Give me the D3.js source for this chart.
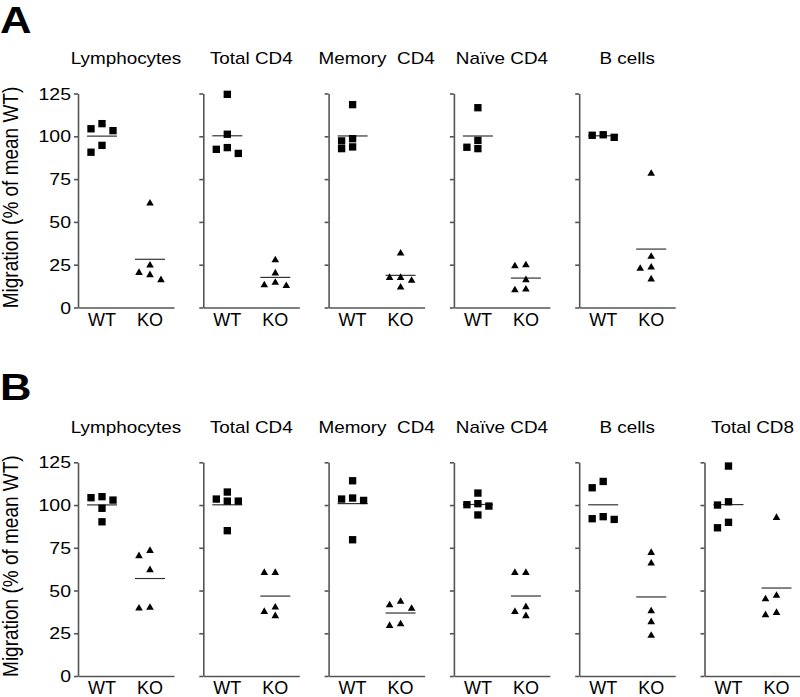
<!DOCTYPE html>
<html>
<head>
<meta charset="utf-8">
<script src="https://cdn.jsdelivr.net/npm/d3@7"></script>
<style>
  body { margin: 0; background: #fff; }
  text { font-family: Arial, "Liberation Sans", Helvetica, sans-serif; fill: #000; }
</style>
</head>
<body>
<div id="chart"></div>
<script>
// categories and tick labels
const groups = ["WT", "KO"];
const cellsA = ["Lymphocytes", "Total CD4", "Memory  CD4", "Naïve CD4", "B cells"];
const cellsB = ["Lymphocytes", "Total CD4", "Memory  CD4", "Naïve CD4", "B cells", "Total CD8"];
const yTicks = [0, 25, 50, 75, 100, 125];

// migration, % of mean WT
const wtA = [
  [104.4, 103.3, 107.4, 90.7, 94.7],
  [124.5, 101.2, 93.4, 90.0, 92.4],
  [118.5, 97.3, 98.6, 92.8, 93.8],
  [116.7, 97.6, 92.8, 93.6],
  [100.9, 99.4, 100.6]
];
const koA = [
  [60.8, 20.3, 24.6, 16.1, 19.0],
  [27.7, 20.0, 14.5, 12.6, 13.1],
  [31.6, 17.4, 17.4, 15.7, 11.8],
  [24.8, 24.2, 16.1, 10.2, 10.6],
  [78.2, 29.7, 23.5, 22.7, 16.5]
];
const wtB = [
  [102.9, 104.9, 104.3, 98.1, 90.2],
  [107.6, 102.3, 102.3, 103.5, 85.0],
  [114.2, 103.5, 102.7, 104.1, 79.7],
  [107.0, 100.2, 100.8, 99.4, 94.2],
  [113.8, 110.1, 93.2, 91.6, 92.0],
  [122.8, 101.9, 100.0, 89.9, 86.7]
];
const koB = [
  [73.3, 70.2, 62.0, 39.6, 40.0],
  [60.4, 60.4, 40.2, 37.6, 35.1],
  [41.5, 39.4, 43.5, 29.4, 30.4],
  [60.4, 60.4, 40.4, 37.6, 35.1],
  [72.1, 65.9, 38.0, 31.6, 23.6],
  [92.6, 47.0, 45.0, 35.7, 37.0]
];

const width = 800;
const height = 697;
const plotW = 96;
const step = 125.3;
const left0 = 78;
const stretch = 1.18; // the figure's lettering is a little wide

const svg = d3.select("#chart").append("svg")
  .attr("width", width)
  .attr("height", height);

const x = d3.scalePoint().domain(groups).range([0, plotW]).padding(0.5);

// panel settings: label, titles, data, y range
const panels = [
  { label: "A", labelY: 33, cells: cellsA, wt: wtA, ko: koA, y0: 307.5, y1: 93.5 },
  { label: "B", labelY: 400, cells: cellsB, wt: wtB, ko: koB, y0: 676, y1: 462.3 }
];

const square = d3.symbol().type(d3.symbolSquare).size(54);
const triangle = d3.symbol().type(d3.symbolTriangle).size(25);

// simple column placement so close values sit side by side
function swarm(values, y) {
  const slots = [0, -1, 1, -2, 2];
  const placed = [];
  const sorted = values.map((v, i) => ({ v, i })).sort((a, b) => b.v - a.v);
  sorted.forEach((p) => {
    const py = y(p.v);
    for (const s of slots) {
      const hit = placed.some((q) => q.slot === s && Math.abs(y(q.v) - py) < 7.5);
      if (!hit) { placed.push({ v: p.v, slot: s }); break; }
    }
  });
  return placed;
}

// wide text: draw at (tx,ty) and stretch horizontally
function wideText(parent, tx, ty, str, size, anchor) {
  return parent.append("text")
    .attr("transform", `translate(${tx},${ty}) scale(${stretch},1)`)
    .attr("text-anchor", anchor)
    .style("font-size", size + "px")
    .style("white-space", "pre")
    .text(str);
}

panels.forEach((panel) => {
  wideText(svg, 0, panel.labelY, panel.label, 37, "start")
    .style("font-weight", "bold");

  const y = d3.scaleLinear().domain([0, 125]).range([panel.y0, panel.y1]);

  // y axis title
  svg.append("text")
    .attr("transform", `translate(18,${(panel.y0 + panel.y1) / 2 - 3}) scale(1.12,1) rotate(-90)`)
    .attr("text-anchor", "middle")
    .style("font-size", "19px")
    .text("Migration (% of mean WT)");

  panel.cells.forEach((name, i) => {
    const g = svg.append("g")
      .attr("transform", `translate(${left0 + i * step},0)`);

    wideText(g, plotW / 2, panel.y1 - 29.5, name, 16, "middle");

    const yAxis = g.append("g")
      .call(d3.axisLeft(y).tickValues(yTicks).tickSize(4).tickSizeOuter(0).tickFormat(""));
    yAxis.selectAll("path, line").attr("stroke", "#555").attr("stroke-width", 1.6);

    if (i === 0) {
      yTicks.forEach((t) => {
        wideText(g, -7, y(t) + 6, String(t), 16.5, "end");
      });
    }

    const xAxis = g.append("g")
      .attr("transform", `translate(0,${panel.y0})`)
      .call(d3.axisBottom(x).tickSize(0).tickSizeOuter(0).tickFormat(""));
    xAxis.select("path").attr("stroke", "#555").attr("stroke-width", 1.6);

    groups.forEach((grp) => {
      g.append("text")
        .attr("x", x(grp))
        .attr("y", panel.y0 + 18)
        .attr("text-anchor", "middle")
        .style("font-size", "18px")
        .text(grp);
    });

    [["WT", panel.wt[i], square], ["KO", panel.ko[i], triangle]].forEach(([grp, vals, sym]) => {
      const cx = x(grp);
      const m = d3.mean(vals);
      g.append("line")
        .attr("x1", cx - 15)
        .attr("x2", cx + 15)
        .attr("y1", y(m))
        .attr("y2", y(m))
        .attr("stroke", "#333")
        .attr("stroke-width", 1.2);

      g.append("g")
        .selectAll("path")
        .data(swarm(vals, y))
        .enter()
        .append("path")
        .attr("d", sym)
        .attr("transform", (d) => `translate(${cx + d.slot * 11},${y(d.v)})`)
        .attr("fill", "#000");
    });
  });
});
</script>
</body>
</html>
